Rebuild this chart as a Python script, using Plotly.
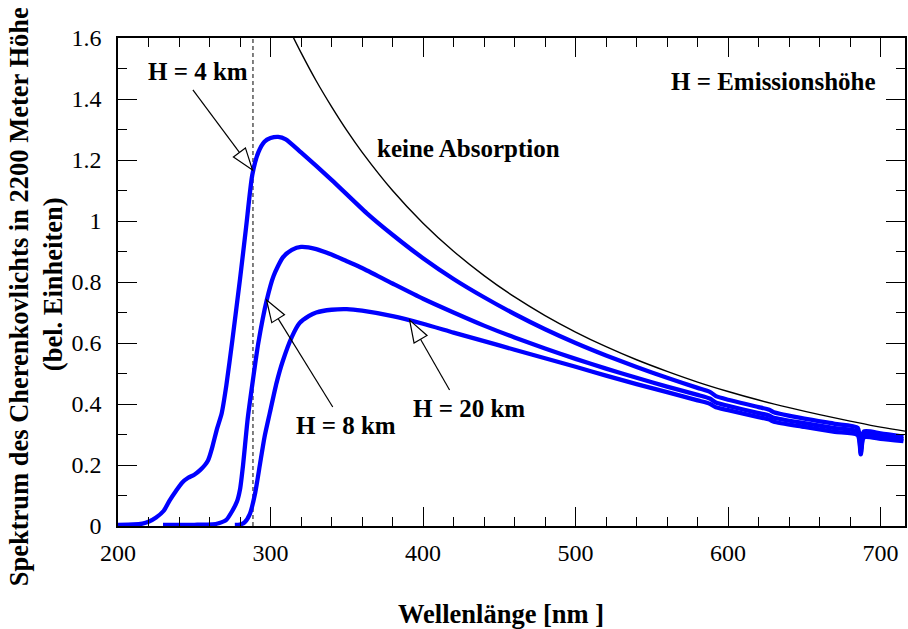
import plotly.graph_objects as go
import math

# ---------------- data ----------------
noabs_x = [312, 320, 330, 340, 350, 360, 380, 400, 420, 440, 460, 480, 500, 520,
           540, 560, 580, 600, 620, 640, 660, 680, 700, 716]
noabs_y = [1.632, 1.552, 1.459, 1.375, 1.297, 1.226, 1.100, 0.993, 0.901, 0.821,
           0.751, 0.690, 0.636, 0.588, 0.545, 0.507, 0.472, 0.441, 0.413, 0.388,
           0.365, 0.344, 0.324, 0.311]

h4_x = [200, 210, 216, 220, 225, 230, 234, 238, 242, 246, 250, 254, 257, 259, 260,
        262, 265, 268, 271, 275, 280, 284, 288, 292, 296, 300, 305, 310, 320, 340,
        363, 380, 400, 420, 440, 460, 480, 500, 520, 540, 560, 580, 588, 592, 600,
        620, 627, 630, 650, 670, 685, 687, 689, 700, 715]
h4_y = [0.004, 0.005, 0.008, 0.014, 0.028, 0.05, 0.085, 0.115, 0.142, 0.158, 0.168,
        0.184, 0.2, 0.215, 0.228, 0.262, 0.32, 0.37, 0.46, 0.61, 0.81, 0.98, 1.15,
        1.225, 1.26, 1.272, 1.276, 1.268, 1.225, 1.135, 1.026, 0.955, 0.878, 0.810,
        0.750, 0.695, 0.645, 0.600, 0.559, 0.521, 0.486, 0.453, 0.440, 0.426, 0.414,
        0.390, 0.381, 0.373, 0.352, 0.335, 0.322, 0.25, 0.31, 0.304, 0.293]

h8_x = [229.5, 240, 250, 262, 266, 271, 275, 278, 280, 282, 285, 288.5, 292, 297.5,
        302, 308, 314, 320, 330, 340, 350, 360, 380, 400, 420, 440, 460, 480, 500,
        520, 540, 560, 580, 588, 592, 600, 620, 627, 630, 650, 670, 685, 687, 689,
        700, 715]
h8_y = [0.004, 0.004, 0.004, 0.005, 0.009, 0.02, 0.05, 0.08, 0.12, 0.2, 0.35, 0.48,
        0.60, 0.74, 0.82, 0.88, 0.905, 0.915, 0.908, 0.890, 0.868, 0.846, 0.795,
        0.745, 0.700, 0.657, 0.618, 0.582, 0.548, 0.516, 0.486, 0.457, 0.430, 0.418,
        0.405, 0.394, 0.370, 0.362, 0.355, 0.337, 0.321, 0.309, 0.24, 0.30, 0.295,
        0.285]

h20_x = [276.6, 280, 283, 286.5, 290, 293, 296, 299.5, 304, 308, 314, 319, 325, 330,
         340, 350, 360, 380, 400, 420, 440, 460, 480, 500, 520, 540, 560, 580,
         588, 592, 600, 620, 627, 630, 650, 670, 685, 687, 689, 700, 715]
h20_y = [0.004, 0.005, 0.012, 0.04, 0.11, 0.2, 0.29, 0.37, 0.47, 0.54, 0.62, 0.665,
         0.688, 0.70, 0.709, 0.711, 0.706, 0.688, 0.663, 0.634, 0.606, 0.578,
         0.550, 0.522, 0.493, 0.465, 0.439, 0.412, 0.401, 0.389, 0.380, 0.357, 0.349,
         0.342, 0.325, 0.309, 0.298, 0.235, 0.29, 0.286, 0.278]

cutoff_x = 288.5

x_ticks = [200, 300, 400, 500, 600, 700]
y_ticks = [0, 0.2, 0.4, 0.6, 0.8, 1, 1.2, 1.4, 1.6]
y_ticktext = ["0", "0.2", "0.4", "0.6", "0.8", "1", "1.2", "1.4", "1.6"]

# labels: (text, x, y)
labels = [
    ("H = 4 km", 252.7, 1.489),
    ("keine Absorption", 430.0, 1.239),
    ("H = Emissionshöhe", 629.6, 1.459),
    ("H = 8 km", 349.3, 0.331),
    ("H = 20 km", 430.0, 0.384),
]
# arrows: (tail x, tail y, tip x, tip y)
arrows = [
    (249.1, 1.430, 288.2, 1.167),
    (340.8, 0.390, 297.4, 0.741),
    (417.4, 0.446, 391.2, 0.675),
]

# ---------------- layout geometry ----------------
W, H = 908, 629
ML, MR, MT, MB = 118, 1, 38, 103
X0, X1 = 200, 716
Y0, Y1 = 0, 1.6
PW, PH = W - ML - MR, H - MT - MB

def to_px(x, y):
    return ML + (x - X0) / (X1 - X0) * PW, MT + (1 - (y - Y0) / (Y1 - Y0)) * PH

def to_data(px, py):
    return X0 + (px - ML) / PW * (X1 - X0), Y0 + (1 - (py - MT) / PH) * (Y1 - Y0)

FONT = "Times New Roman, Liberation Serif, serif"
BLUE = "#0000ff"

fig = go.Figure()

fig.add_trace(go.Scatter(x=[cutoff_x, cutoff_x], y=[Y0, Y1], mode="lines",
                         line=dict(color="black", width=1, dash="4px,3px"),
                         hoverinfo="skip"))
fig.add_trace(go.Scatter(x=noabs_x, y=noabs_y, mode="lines",
                         line=dict(color="black", width=1.4, shape="spline")))
for xs, ys in [(h4_x, h4_y), (h8_x, h8_y), (h20_x, h20_y)]:
    fig.add_trace(go.Scatter(x=xs, y=ys, mode="lines",
                             line=dict(color=BLUE, width=4.3, shape="spline", smoothing=0.6)))

shapes = []
HL, HW = 22, 7.5
for tx, ty, hx, hy in arrows:
    ax, ay = to_px(tx, ty)
    bx, by = to_px(hx, hy)
    dx, dy = bx - ax, by - ay
    d = math.hypot(dx, dy)
    ux, uy = dx / d, dy / d
    cx, cy = bx - ux * HL, by - uy * HL
    nx, ny = -uy, ux
    p1 = to_data(cx + nx * HW, cy + ny * HW)
    p2 = to_data(cx - nx * HW, cy - ny * HW)
    c = to_data(cx, cy)
    shapes.append(dict(type="line", xref="x", yref="y", x0=tx, y0=ty, x1=c[0], y1=c[1],
                       line=dict(color="black", width=1.2)))
    shapes.append(dict(type="path", xref="x", yref="y",
                       path=f"M {hx} {hy} L {p1[0]} {p1[1]} L {p2[0]} {p2[1]} Z",
                       fillcolor="white", line=dict(color="black", width=1.2)))

annotations = []
for text, x, y in labels:
    annotations.append(dict(x=x, y=y, xref="x", yref="y", text=f"<b>{text}</b>",
                            showarrow=False, xanchor="center", yanchor="middle",
                            font=dict(family=FONT, size=25, color="black")))
annotations.append(dict(x=(502 - ML) / PW, y=(MT + PH - 614) / PH, xref="paper", yref="paper",
                        text="<b>Wellenlänge [nm ]</b>", showarrow=False,
                        xanchor="center", yanchor="middle",
                        font=dict(family=FONT, size=26.5, color="black")))
annotations.append(dict(x=(19 - ML) / PW, y=(MT + PH - 297) / PH, xref="paper", yref="paper",
                        text="<b>Spektrum des Cherenkovlichts in 2200 Meter Höhe</b>",
                        showarrow=False, textangle=-90, xanchor="center", yanchor="middle",
                        font=dict(family=FONT, size=26.5, color="black")))
annotations.append(dict(x=(53 - ML) / PW, y=(MT + PH - 284) / PH, xref="paper", yref="paper",
                        text="<b>(bel. Einheiten)</b>",
                        showarrow=False, textangle=-90, xanchor="center", yanchor="middle",
                        font=dict(family=FONT, size=26.5, color="black")))

axis_common = dict(showline=True, linecolor="black", linewidth=1.5, mirror="ticks",
                   ticks="inside", ticklen=19, tickwidth=1.3, tickcolor="black",
                   showgrid=False, zeroline=False,
                   tickfont=dict(family=FONT, size=24, color="black"))

fig.update_layout(
    width=W, height=H,
    margin=dict(l=ML, r=MR, t=MT, b=MB),
    paper_bgcolor="white", plot_bgcolor="white",
    showlegend=False,
    font=dict(family=FONT),
    shapes=shapes, annotations=annotations,
    xaxis=dict(range=[X0, X1], tickvals=x_ticks, ticktext=[str(v) for v in x_ticks],
               minor=dict(ticks="inside", ticklen=9, dtick=20, tick0=200,
                          tickcolor="black", tickwidth=1.3, showgrid=False),
               ticklabelstandoff=4, **axis_common),
    yaxis=dict(range=[Y0, Y1], tickvals=y_ticks, ticktext=y_ticktext,
               minor=dict(ticks="inside", ticklen=9, dtick=0.1, tick0=0,
                          tickcolor="black", tickwidth=1.3, showgrid=False),
               ticklabelstandoff=10, **axis_common),
)

fig.write_html("out.html")
